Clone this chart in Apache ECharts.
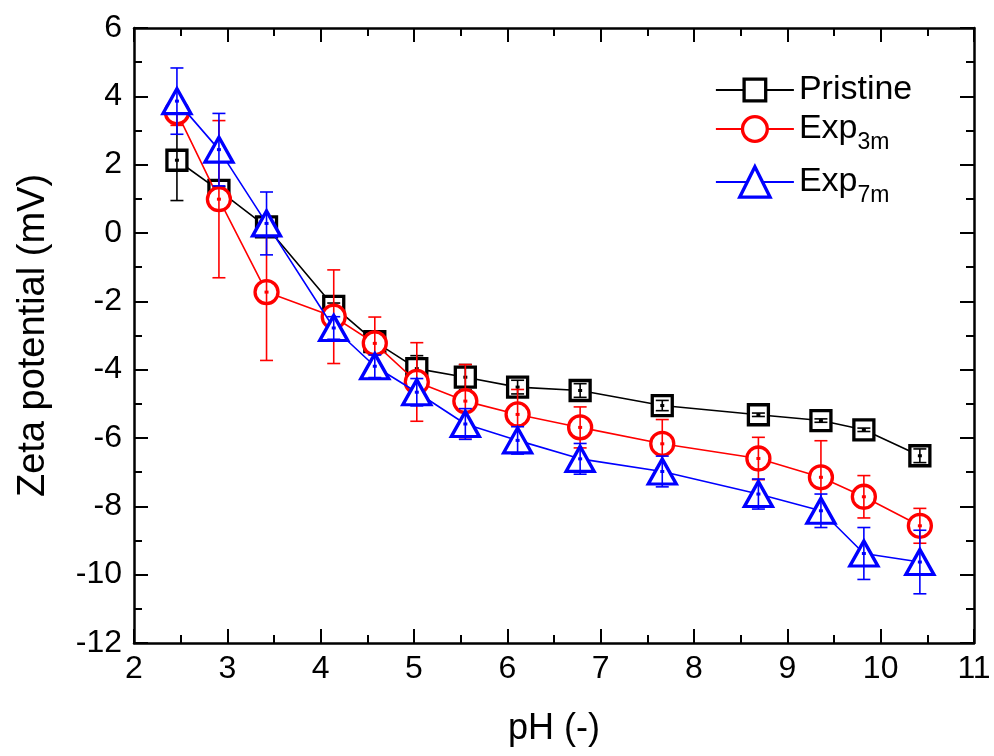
<!DOCTYPE html>
<html>
<head>
<meta charset="utf-8">
<script src="https://cdn.jsdelivr.net/npm/echarts@6/dist/echarts.min.js"></script>
<style>
html,body{margin:0;padding:0;background:#fff;}
#chart{width:994px;height:756px;}
</style>
</head>
<body>
<div id="chart"></div>
<script>
const seriesNames = ['Pristine', 'Exp3m', 'Exp7m'];
const pH = [2.46, 2.91, 3.42, 4.14, 4.58, 5.03, 5.55, 6.11, 6.78, 7.66, 8.69, 9.36, 9.82, 10.42];
const pristine = [2.13, 1.25, 0.18, -2.15, -3.18, -3.97, -4.22, -4.51, -4.61, -5.05, -5.32, -5.49, -5.76, -6.52];
const pristineErr = [1.18, 0.1, 0.15, 0.1, 0.05, 0.38, 0.37, 0.2, 0.2, 0.15, 0.05, 0.05, 0.05, 0.2];
const exp3m = [3.53, 0.99, -1.73, -2.45, -3.23, -4.36, -4.92, -5.31, -5.69, -6.17, -6.6, -7.15, -7.72, -8.57];
const exp3mErr = [0.38, 2.3, 2.0, 1.37, 0.77, 1.15, 1.07, 0.73, 0.6, 0.71, 0.62, 1.07, 0.62, 0.51];
const exp7m = [3.86, 2.44, 0.28, -2.78, -3.9, -4.66, -5.59, -6.07, -6.61, -6.98, -7.64, -8.13, -9.38, -9.63];
const exp7mErr = [0.97, 1.06, 0.92, 0.33, 0.33, 0.4, 0.45, 0.4, 0.45, 0.45, 0.44, 0.49, 0.76, 0.93];
const xTicks = [2, 3, 4, 5, 6, 7, 8, 9, 10, 11];
const yTicks = [-12, -10, -8, -6, -4, -2, 0, 2, 4, 6];

const colors = ['#000000', '#ff0000', '#0000ff'];
const symbols = ['rect', 'circle', 'triangle'];
const symbolSizes = [20, 23, [28, 25]];
const values = [pristine, exp3m, exp7m];
const errors = [pristineErr, exp3mErr, exp7mErr];

const FONT = '"Liberation Sans", Arial, sans-serif';

function pairs(ys) { return pH.map((x, i) => [x, ys[i]]); }
function errData(ys, es) { return pH.map((x, i) => [x, ys[i], es[i]]); }

function makeErrRender(color) {
  return function (params, api) {
    const x = api.value(0), y = api.value(1), e = api.value(2);
    const c = api.coord([x, y]);
    const top = api.coord([x, y + e]);
    const bot = api.coord([x, y - e]);
    const hw = 6.5;
    const st = { stroke: color, lineWidth: 1.6 };
    return {
      type: 'group',
      children: [
        { type: 'line', shape: { x1: c[0], y1: top[1], x2: c[0], y2: bot[1] }, style: st },
        { type: 'line', shape: { x1: c[0] - hw, y1: top[1], x2: c[0] + hw, y2: top[1] }, style: st },
        { type: 'line', shape: { x1: c[0] - hw, y1: bot[1], x2: c[0] + hw, y2: bot[1] }, style: st },
        { type: 'rect', shape: { x: c[0] - 2, y: c[1] - 1.5, width: 4, height: 3 }, style: { fill: color } }
      ]
    };
  };
}

const series = [];
seriesNames.forEach((name, k) => {
  series.push({
    name: name,
    type: 'line',
    data: pairs(values[k]),
    symbol: symbols[k],
    symbolSize: symbolSizes[k],
    showSymbol: true,
    z: 2 + k * 2,
    lineStyle: { color: colors[k], width: 1.6 },
    itemStyle: { color: '#ffffff', borderColor: colors[k], borderWidth: 3.3 },
    emphasis: { disabled: true },
    animation: false
  });
  series.push({
    name: name + '_err',
    type: 'custom',
    data: errData(values[k], errors[k]),
    renderItem: makeErrRender(colors[k]),
    z: 3 + k * 2,
    silent: true,
    animation: false
  });
});

function legendFormatter(name) {
  if (name === 'Pristine') return '{n|Pristine}';
  return '{n|Exp}{s|' + name.slice(3) + '}';
}
const legendRich = {
  n: { fontFamily: FONT, fontSize: 34, lineHeight: 34, verticalAlign: 'top', color: '#000' },
  s: { fontFamily: FONT, fontSize: 23, lineHeight: 23, verticalAlign: 'top', padding: [19, 0, 0, 0], color: '#000' }
};
const legendTops = [68, 107, 160];
const legendHeights = [27, 31, 38];
const legends = seriesNames.map((name, k) => ({
  data: [name],
  left: 710,
  top: legendTops[k],
  orient: 'vertical',
  itemWidth: 78,
  itemHeight: legendHeights[k],
  itemGap: 0,
  selectedMode: false,
  formatter: legendFormatter,
  itemStyle: { color: '#ffffff', borderColor: colors[k], borderWidth: 3.3 },
  lineStyle: { color: colors[k], width: 1.8 },
  textStyle: { fontFamily: FONT, fontSize: 34, color: '#000', rich: legendRich }
}));

const axisCommon = {
  axisLine: { show: true, onZero: false, lineStyle: { color: '#000', width: 2.5 } },
  axisTick: { show: true, inside: true, length: 14, lineStyle: { color: '#000', width: 2 } },
  minorTick: { show: true, splitNumber: 2, length: 8, lineStyle: { color: '#000', width: 2 } },
  splitLine: { show: false },
  minorSplitLine: { show: false }
};

const option = {
  backgroundColor: '#ffffff',
  animation: false,
  grid: { left: 134, right: 20, top: 28, bottom: 113, containLabel: false },
  legend: legends,
  xAxis: [
    Object.assign({}, axisCommon, {
      type: 'value', position: 'bottom', min: 2, max: 11, interval: 1,
      name: 'pH (-)', nameLocation: 'middle', nameGap: 68,
      nameTextStyle: { fontFamily: FONT, fontSize: 36, color: '#000' },
      axisLabel: { fontFamily: FONT, fontSize: 32, color: '#000', margin: 10,
        formatter: v => (xTicks.indexOf(v) >= 0 ? String(v) : '') }
    }),
    Object.assign({}, axisCommon, {
      type: 'value', position: 'top', min: 2, max: 11, interval: 1,
      axisLabel: { show: false }
    })
  ],
  yAxis: [
    Object.assign({}, axisCommon, {
      type: 'value', position: 'left', min: -12, max: 6, interval: 2,
      name: 'Zeta potential (mV)', nameLocation: 'middle', nameGap: 81,
      nameTextStyle: { fontFamily: FONT, fontSize: 38, color: '#000' },
      axisLabel: { fontFamily: FONT, fontSize: 32, color: '#000', margin: 12,
        formatter: v => (yTicks.indexOf(v) >= 0 ? String(v) : '') }
    }),
    Object.assign({}, axisCommon, {
      type: 'value', position: 'right', min: -12, max: 6, interval: 2,
      axisLabel: { show: false }
    })
  ],
  series: series
};

const chart = echarts.init(document.getElementById('chart'), null, { renderer: 'canvas' });
chart.setOption(option);
</script>
</body>
</html>
